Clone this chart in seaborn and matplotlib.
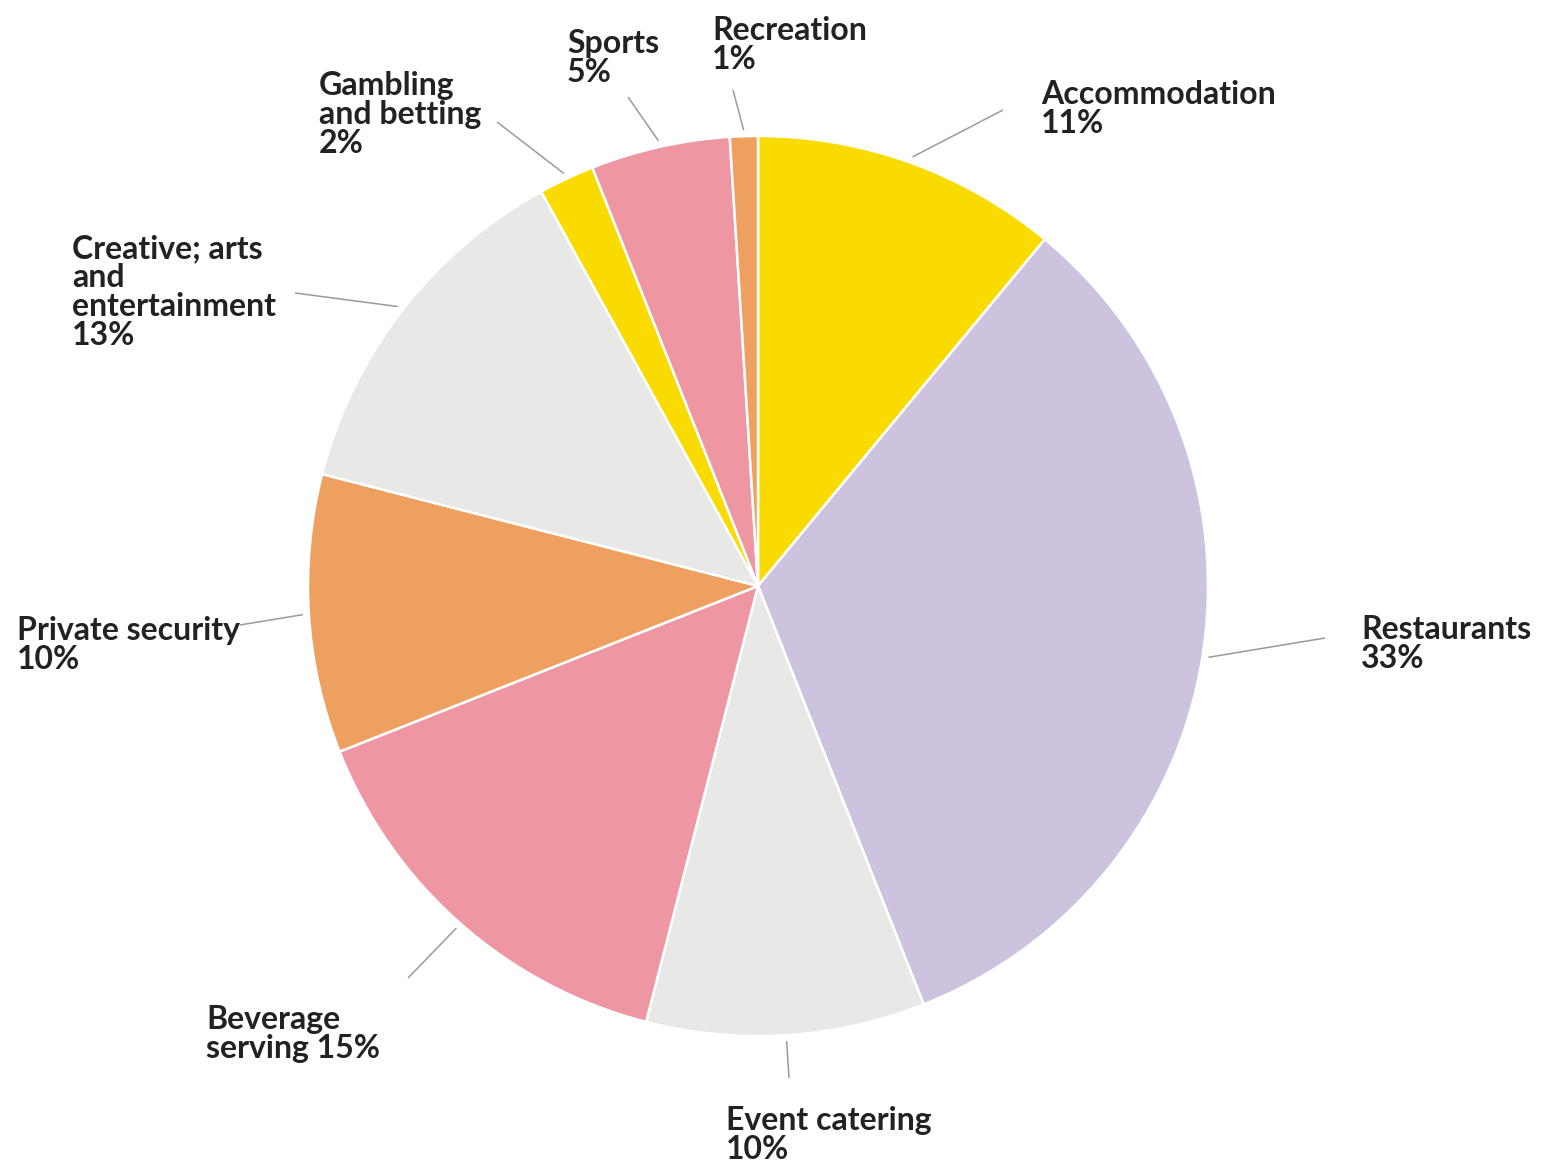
import numpy as np
import matplotlib
matplotlib.use("Agg")
import matplotlib.pyplot as plt
import seaborn as sns

# ---------------- data ----------------
categories = ["Accommodation", "Restaurants", "Event catering", "Beverage\nserving",
              "Private security", "Creative; arts\nand\nentertainment",
              "Gambling\nand betting", "Sports", "Recreation"]
values = [11, 33, 10, 15, 10, 13, 2, 5, 1]

# ---------------- styles / layout ----------------
YEL, LAV, GRY, PNK, ORG = "#FADB00", "#CEC3DF", "#E8E8E6", "#EE97A3", "#EEA060"
colors = [YEL, LAV, GRY, PNK, ORG, GRY, YEL, PNK, ORG]
joiners = ["\n", "\n", "\n", " ", "\n", "\n", "\n", "\n", "\n"]
# label top-left positions (pixels) and leader line end points (pixels)
label_pos = [(1041, 80), (1361, 615), (726, 1106), (206, 1005), (17, 616),
             (72, 234), (319, 71), (567, 29), (712, 16)]
leader_end = [(1003, 110), (1325, 638), (789, 1078), (408, 978), (240, 625),
              (295, 293), (497, 122), (628, 97), (733, 90)]

W, H = 1543, 1163
CX, CY = 758, 586
R = 450

sns.set_theme(style="white")
plt.rcParams["font.family"] = ["Lato", "DejaVu Sans"]

fig = plt.figure(figsize=(W / 100, H / 100), dpi=100)
ax = fig.add_axes([0, 0, 1, 1])

wedges, _ = ax.pie(values, colors=colors, startangle=90, counterclock=False,
                   center=(CX, H - CY), radius=R,
                   wedgeprops=dict(edgecolor="white", linewidth=1.8))

ax.set_xlim(0, W)
ax.set_ylim(0, H)
ax.set_aspect("equal")
ax.axis("off")

total = sum(values)
cum = np.cumsum([0] + values)
for i, (name, v) in enumerate(zip(categories, values)):
    mid = (cum[i] + v / 2) / total * 360.0  # clockwise from top
    th = np.deg2rad(mid)
    sx = CX + (R + 6) * np.sin(th)
    sy = CY - (R + 6) * np.cos(th)
    ex, ey = leader_end[i]
    ax.plot([sx, ex], [H - sy, H - ey], color="#9a9a9a", lw=1.1,
            solid_capstyle="butt")
    tx, ty = label_pos[i]
    ax.text(tx, H - ty, f"{name}{joiners[i]}{v}%", ha="left", va="top",
            fontsize=23, fontweight="bold", color="#222222", linespacing=1.0)

fig.savefig("out.png", dpi=100, facecolor="white")
